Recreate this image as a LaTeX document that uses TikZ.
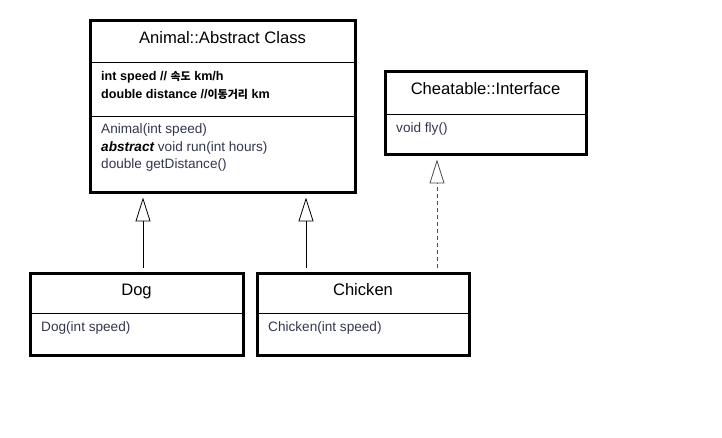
\documentclass[tikz,border=0pt]{standalone}
\usepackage{fontspec}
\setmainfont{Liberation Sans}
\newfontfamily\krfont{Noto Sans CJK KR}
\usetikzlibrary{arrows.meta,calc}
\definecolor{meth}{HTML}{33364F}
\tikzset{
  classbox/.style={draw, line width=3pt, rectangle, inner sep=0pt},
  sep/.style={line width=0.8pt},
  title/.style={font=\fontsize{16.6}{18}\selectfont, anchor=center, inner sep=0pt, text height=12pt, text depth=3.5pt},
  attr/.style={font=\bfseries\fontsize{12.6}{14}\selectfont, anchor=west, inner sep=0pt, text height=9pt, text depth=2.5pt},
  methtxt/.style={font=\fontsize{13.6}{15}\selectfont, anchor=west, inner sep=0pt, text=meth, text height=9.5pt, text depth=3pt},
  inh/.style={line width=0.7pt, -{Triangle[open, length=24pt, width=15pt, line width=0.8pt]}},
  real/.style={inh, dashed, dash pattern=on 4pt off 3pt, draw=black!70}
}
\begin{document}
\begin{tikzpicture}[x=1pt,y=-1pt]
\useasboundingbox (0,0) rectangle (722,438);
% boxes
\node[classbox, minimum width=265pt, minimum height=172pt] (animal) at (222.5,107) {};
\node[classbox, minimum width=201pt, minimum height=83pt] (cheat) at (485.5,113.5) {};
\node[classbox, minimum width=213pt, minimum height=82pt] (dog) at (136.5,314) {};
\node[classbox, minimum width=212pt, minimum height=82pt] (chicken) at (363,314) {};
% separators
\draw[sep] (90,62) -- (355,62);
\draw[sep] (90,116) -- (355,116);
\draw[sep] (385,114) -- (586,114);
\draw[sep] (30,313) -- (243,313);
\draw[sep] (257,313) -- (469,313);
% titles
\node[title] (tA) at (222.5,39) {Animal::Abstract Class};
\node[title] (tC) at (485.5,90) {Cheatable::Interface};
\node[title] (tD) at (136.5,291) {Dog};
\node[title] (tK) at (363,291) {Chicken};
% attributes
\node[attr] (a1) at (101,77) {int speed // {\krfont\bfseries\fontsize{11}{12}\selectfont 속도} km/h};
\node[attr] (a2) at (101,95) {double distance //{\krfont\bfseries\fontsize{11}{12}\selectfont 이동거리} km};
% methods
\node[methtxt] (m1) at (101,130) {Animal(int speed)};
\node[methtxt] (m2) at (101,148) {{\bfseries\itshape\color{black}abstract} void run(int hours)};
\node[methtxt] (m3) at (101,165.5) {double getDistance()};
\node[methtxt] (m4) at (396,129) {void fly()};
\node[methtxt] (m5) at (41,328) {Dog(int speed)};
\node[methtxt] (m6) at (268,328) {Chicken(int speed)};
% connectors
\coordinate (dogtop) at (143,268);
\coordinate (chktop) at (306,268);
\coordinate (chkreal) at (437,268);
\draw[inh, shorten >=3pt] (dogtop) -- (dogtop |- animal.south);
\draw[inh, shorten >=3pt] (chktop) -- (chktop |- animal.south);
\draw[real, shorten >=3pt] (chkreal) -- (chkreal |- cheat.south);
\end{tikzpicture}
\end{document}
